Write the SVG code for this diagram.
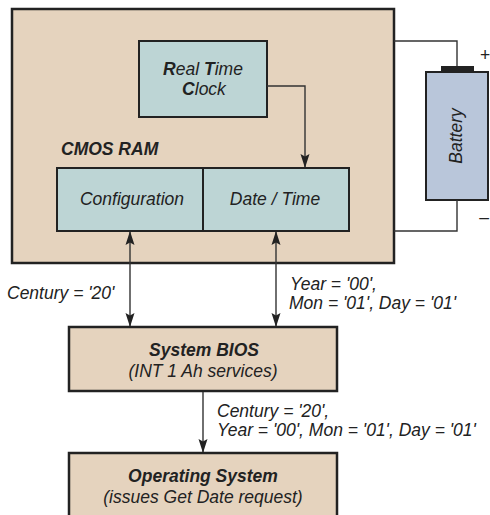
<svg xmlns="http://www.w3.org/2000/svg" width="490" height="515" viewBox="0 0 490 515">
  <style>
    .txt { font-family: "Liberation Sans", Arial, sans-serif; font-size: 17.5px; font-style: italic; fill: #222; }
    .b { font-weight: bold; }
    .mid { text-anchor: middle; }
    .panel { fill: #e5d3be; stroke: #222; stroke-width: 2.5; }
    .chip { fill: #bdd5d5; stroke: #222; stroke-width: 2; }
    .cell { fill: #b9c6da; stroke: #222; stroke-width: 2; }
    .wire { fill: none; stroke: #333; stroke-width: 1.4; }
    .link { fill: none; stroke: #333; stroke-width: 1.4; }
  </style>
  <defs>
    <marker id="head" viewBox="0 0 14 10" refX="13" refY="5" markerWidth="14" markerHeight="10" markerUnits="userSpaceOnUse" orient="auto-start-reverse">
      <path d="M0,0.5 L14,5 L0,9.5 L2.5,5 Z" fill="#222"/>
    </marker>
  </defs>

  <!-- PC board enclosure -->
  <g id="pc">
    <rect class="panel" x="12" y="9" width="382" height="254"/>
  </g>

  <!-- Real Time Clock chip -->
  <g id="rtc">
    <rect class="chip" x="139" y="41" width="128" height="76"/>
    <text class="txt mid" x="203" y="75"><tspan class="b">R</tspan>eal <tspan class="b">T</tspan>ime</text>
    <text class="txt mid" x="204" y="95"><tspan class="b">C</tspan>lock</text>
  </g>

  <!-- CMOS RAM -->
  <g id="cmos">
    <text class="txt b" x="61" y="155">CMOS RAM</text>
    <rect class="chip" x="57" y="168" width="292" height="63"/>
    <line x1="203" y1="168" x2="203" y2="231" stroke="#222" stroke-width="2"/>
    <text class="txt mid" x="132" y="205">Configuration</text>
    <text class="txt mid" x="275" y="205">Date / Time</text>
  </g>

  <!-- Backup battery -->
  <g id="battery">
    <rect x="441" y="66" width="33" height="7" fill="#222"/>
    <rect class="cell" x="426" y="72" width="62" height="128"/>
    <text class="txt mid" transform="translate(462,136) rotate(-90)">Battery</text>
    <text class="txt mid" x="485" y="61" style="font-style:normal">+</text>
    <text class="txt mid" x="484" y="223" style="font-style:normal">–</text>
  </g>

  <!-- System BIOS -->
  <g id="bios">
    <rect class="panel" x="69" y="327" width="268" height="64"/>
    <text class="txt b mid" x="204" y="356">System BIOS</text>
    <text class="txt mid" x="203" y="377">(INT 1 Ah services)</text>
  </g>

  <!-- Operating System -->
  <g id="os">
    <rect class="panel" x="69" y="453" width="268" height="70"/>
    <text class="txt b mid" x="203" y="482">Operating System</text>
    <text class="txt mid" x="203" y="503">(issues Get Date request)</text>
  </g>

  <!-- Connectors -->
  <g id="connectors">
    <polyline class="wire" points="394,41 457,41 457,66"/>
    <polyline class="wire" points="457,200 457,231 394,231"/>
    <polyline class="link" points="267,86 305,86 305,167" marker-end="url(#head)"/>
    <line class="link" x1="130" y1="232" x2="130" y2="326" marker-start="url(#head)" marker-end="url(#head)"/>
    <line class="link" x1="276" y1="232" x2="276" y2="326" marker-start="url(#head)" marker-end="url(#head)"/>
    <line class="link" x1="203" y1="392" x2="203" y2="452" marker-end="url(#head)"/>
  </g>

  <!-- Connector labels -->
  <g id="labels">
    <text class="txt" x="7" y="299">Century = '20'</text>
    <text class="txt" x="290" y="290">Year = '00',</text>
    <text class="txt" x="289" y="309">Mon = '01', Day = '01'</text>
    <text class="txt" x="217" y="417">Century = '20',</text>
    <text class="txt" x="217" y="436">Year = '00', Mon = '01', Day = '01'</text>
  </g>
</svg>
